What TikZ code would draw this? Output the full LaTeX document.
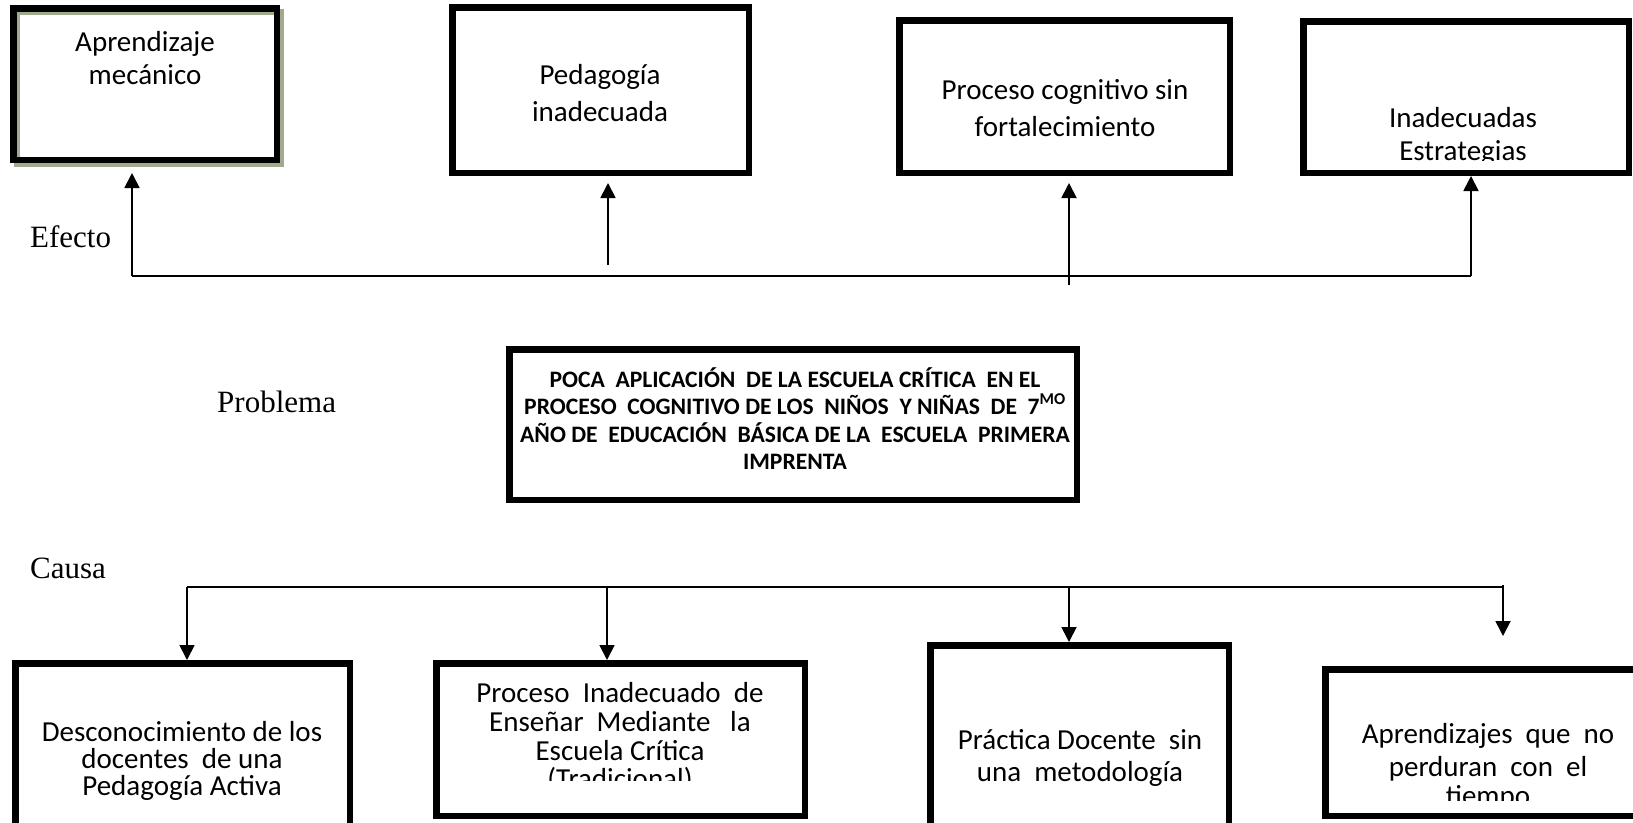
\documentclass[tikz,border=0pt]{standalone}
\usepackage{fontspec}
\setmainfont{Carlito}
\newfontfamily\labelfont{Liberation Serif}
\usetikzlibrary{arrows.meta}
\definecolor{shadowgreen}{RGB}{160,170,140}
\begin{document}
\begin{tikzpicture}[x=1pt,y=-1pt,
  boxstyle/.style={draw=black, line width=6.5pt, inner sep=0pt, rectangle},
  shadowbox/.style={draw=shadowgreen, line width=6.5pt, inner sep=0pt, rectangle},
  boxtext/.style={font=\fontsize{29}{34}\selectfont, inner sep=0pt, anchor=base},
  probtext/.style={font=\bfseries\fontsize{23.6}{28}\selectfont, inner sep=0pt, anchor=base},
  labeltext/.style={font=\labelfont\fontsize{31}{36}\selectfont, inner sep=0pt, anchor=base west},
  conn/.style={line width=1.8pt},
  arrowline/.style={line width=1.8pt, -{Triangle[width=15pt,length=15pt]}}
]
\useasboundingbox (0,0) rectangle (1633,822);
\fill[white] (0,0) rectangle (1633,822);

% ---------- top boxes (effects) ----------
\node[shadowbox, minimum width=263.5pt, minimum height=151.5pt] (box1s) at (148.5,87.5) {};
\node[boxstyle, minimum width=263.5pt, minimum height=151.5pt] (box1) at (145,84) {};
\node[boxstyle, minimum width=296.5pt, minimum height=165.5pt] (box2) at (600.5,90) {};
\node[boxstyle, minimum width=330.5pt, minimum height=152.5pt] (box3) at (1064.5,96.5) {};
\node[boxstyle, minimum width=325.5pt, minimum height=151.5pt] (box4) at (1466,97) {};

\node[boxtext] (t1a) at (145,51) {Aprendizaje};
\node[boxtext] (t1b) at (145,84) {mecánico};
\node[boxtext] (t2a) at (600,84) {Pedagogía};
\node[boxtext] (t2b) at (600,121) {inadecuada};
\node[boxtext] (t3a) at (1065,99) {Proceso cognitivo sin};
\node[boxtext] (t3b) at (1065,136) {fortalecimiento};
\begin{scope}
  \clip (1306.5,24.5) rectangle (1625.5,160);
  \node[boxtext] (t4a) at (1463,127) {Inadecuadas};
  \node[boxtext] (t4b) at (1463,160) {Estrategias};
\end{scope}

% ---------- problem box ----------
\node[boxstyle, minimum width=567.5pt, minimum height=150.5pt] (prob) at (793,424.5) {};
\node[probtext] (p1) at (795,387) {POCA\ \ APLICACIÓN\ \ DE LA ESCUELA CRÍTICA\ \ EN EL};
\node[probtext] (p2) at (795,414) {PROCESO\ \ COGNITIVO DE LOS\ \ NIÑOS\ \ Y NIÑAS\ \ DE\ \ 7\textsuperscript{MO}};
\node[probtext] (p3) at (795,442) {AÑO DE\ \ EDUCACIÓN\ \ BÁSICA DE LA\ \ ESCUELA\ \ PRIMERA};
\node[probtext] (p4) at (795,469) {IMPRENTA};

% ---------- bottom boxes (causes) ----------
\node[boxstyle, minimum width=334.5pt, minimum height=183.5pt] (box5) at (182.5,755) {};
\node[boxstyle, minimum width=368.5pt, minimum height=152.5pt] (box6) at (620.5,739.5) {};
\node[boxstyle, minimum width=298.5pt, minimum height=201.5pt] (box7) at (1079.5,746) {};
\node[boxstyle, minimum width=323.5pt, minimum height=146.5pt] (box8) at (1487,742.5) {};

\node[boxtext] (t5a) at (182,741) {Desconocimiento de los};
\node[boxtext] (t5b) at (182,768) {docentes\ \ de una};
\node[boxtext] (t5c) at (182,795) {Pedagogía Activa};
\begin{scope}
  \clip (439.5,666.5) rectangle (801.5,780);
  \node[boxtext] (t6a) at (620,702) {Proceso\ \ Inadecuado\ \ de};
  \node[boxtext] (t6b) at (620,731) {Enseñar\ \ Mediante\ \ \ la};
  \node[boxtext] (t6c) at (620,760) {Escuela Crítica};
  \node[boxtext] (t6d) at (620,788) {(Tradicional)};
\end{scope}
\node[boxtext] (t7a) at (1080,749) {Práctica Docente\ \ sin};
\node[boxtext] (t7b) at (1080,781) {una\ \ metodología};
\begin{scope}
  \clip (1328.5,672.5) rectangle (1645.5,800);
  \node[boxtext] (t8a) at (1488,743) {Aprendizajes\ \ que\ \ no};
  \node[boxtext] (t8b) at (1488,776) {perduran\ \ con\ \ el};
  \node[boxtext] (t8c) at (1488,805) {tiempo};
\end{scope}

% ---------- labels ----------
\node[labeltext] (efecto) at (30,247) {Efecto};
\node[labeltext] (problema) at (217,412) {Problema};
\node[labeltext] (causa) at (30,578) {Causa};

% ---------- effect connectors ----------
\coordinate (e1) at (132,276);
\coordinate (e1t) at (132,173);
\coordinate (e2) at (608,265);
\coordinate (e2t) at (608,183);
\coordinate (e3) at (1069,285);
\coordinate (e3t) at (1069,183);
\coordinate (e4) at (1471,276);
\draw[conn] (e1) -- (e4);
\draw[arrowline] (e1) -- (e1t);
\draw[arrowline] (e2) -- (e2t);
\draw[arrowline] (e3) -- (e3t);
\draw[arrowline] (e4) -- (e4 |- box4.south);

% ---------- cause connectors ----------
\coordinate (c1) at (187,587);
\coordinate (c2) at (607,587);
\coordinate (c3) at (1069,587);
\coordinate (c4) at (1502,587);
\coordinate (c4s) at (1503,585);
\coordinate (c4t) at (1503,636);
\draw[conn] (c1) -- (c4);
\draw[arrowline] (c1) -- (c1 |- box5.north);
\draw[arrowline] (c2) -- (c2 |- box6.north);
\draw[arrowline] (c3) -- (c3 |- box7.north);
\draw[arrowline] (c4s) -- (c4t);
\end{tikzpicture}
\end{document}
